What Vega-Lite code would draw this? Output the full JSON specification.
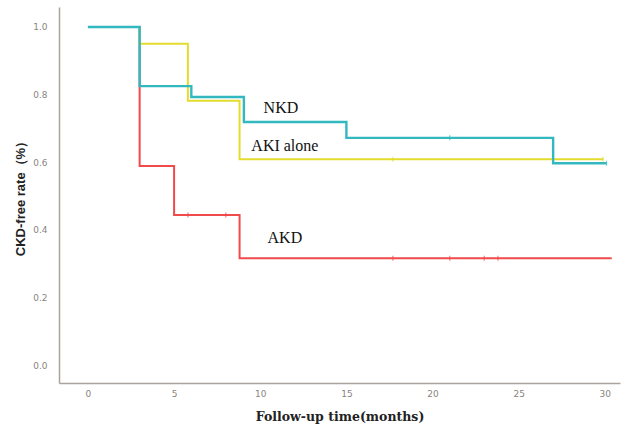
{
  "$schema": "https://vega.github.io/schema/vega-lite/v6.json",
  "width": 561,
  "height": 376,
  "autosize": "none",
  "padding": {"left": 59, "top": 7, "right": 5, "bottom": 41},
  "background": "white",
  "config": {"view": {"stroke": null}},
  "datasets": {
    "curves": [
      {"group": "AKD", "t": 0, "s": 1.0},
      {"group": "AKD", "t": 3, "s": 0.589},
      {"group": "AKD", "t": 5.0, "s": 0.444},
      {"group": "AKD", "t": 8.8, "s": 0.316},
      {"group": "AKD", "t": 30.4, "s": 0.316},
      {"group": "AKI alone", "t": 0, "s": 1.0},
      {"group": "AKI alone", "t": 3, "s": 0.95},
      {"group": "AKI alone", "t": 5.8, "s": 0.782},
      {"group": "AKI alone", "t": 8.8, "s": 0.609},
      {"group": "AKI alone", "t": 29.9, "s": 0.609},
      {"group": "NKD", "t": 0, "s": 1.0},
      {"group": "NKD", "t": 3, "s": 0.825},
      {"group": "NKD", "t": 6.0, "s": 0.793},
      {"group": "NKD", "t": 9.05, "s": 0.719},
      {"group": "NKD", "t": 15, "s": 0.672},
      {"group": "NKD", "t": 27, "s": 0.597},
      {"group": "NKD", "t": 30.1, "s": 0.597}
    ],
    "censored": [
      {"group": "AKD", "t": 5.8, "s": 0.444},
      {"group": "AKD", "t": 8.0, "s": 0.444},
      {"group": "AKD", "t": 17.7, "s": 0.316},
      {"group": "AKD", "t": 21.0, "s": 0.316},
      {"group": "AKD", "t": 23.0, "s": 0.316},
      {"group": "AKD", "t": 23.8, "s": 0.316},
      {"group": "AKI alone", "t": 17.7, "s": 0.609},
      {"group": "AKI alone", "t": 29.9, "s": 0.609},
      {"group": "NKD", "t": 21.0, "s": 0.672},
      {"group": "NKD", "t": 30.1, "s": 0.597}
    ],
    "labels": [
      {"label": "NKD", "t": 11.2, "s": 0.76},
      {"label": "AKI alone", "t": 11.43, "s": 0.648},
      {"label": "AKD", "t": 11.43, "s": 0.376}
    ]
  },
  "encoding": {
    "x": {
      "field": "t", "type": "quantitative",
      "scale": {"domain": [-1.68, 30.88], "nice": false, "zero": false},
      "axis": {
        "values": [0, 5, 10, 15, 20, 25, 30],
        "title": "Follow-up time(months)",
        "grid": false, "ticks": false,
        "domainColor": "#aca29c", "domainWidth": 1.5,
        "labelColor": "#8a8480", "labelFont": "DejaVu Sans", "labelFontSize": 9,
        "labelPadding": 6,
        "titleFont": "DejaVu Serif", "titleFontSize": 12.5, "titleFontWeight": "bold",
        "titleColor": "#222222", "titlePadding": 12
      }
    },
    "y": {
      "field": "s", "type": "quantitative",
      "scale": {"domain": [-0.053, 1.059], "nice": false, "zero": false},
      "axis": {
        "values": [0, 0.2, 0.4, 0.6, 0.8, 1.0],
        "format": ".1f",
        "title": "CKD-free rate（%）",
        "grid": false, "ticks": false,
        "domainColor": "#aca29c", "domainWidth": 1.5,
        "labelColor": "#8a8480", "labelFont": "DejaVu Sans", "labelFontSize": 9,
        "labelPadding": 12,
        "titleFont": "Liberation Sans", "titleFontSize": 13, "titleFontWeight": "bold",
        "titleColor": "#222222", "titlePadding": 5
      }
    }
  },
  "layer": [
    {
      "data": {"name": "curves"},
      "transform": [{"filter": "datum.group === 'AKD'"}],
      "mark": {"type": "line", "interpolate": "step-after", "strokeWidth": 2, "color": "#f04a4a"},
      "encoding": {"order": {"field": "t", "type": "quantitative"}}
    },
    {
      "data": {"name": "curves"},
      "transform": [{"filter": "datum.group === 'AKI alone'"}],
      "mark": {"type": "line", "interpolate": "step-after", "strokeWidth": 2, "color": "#e4dc2c"},
      "encoding": {"order": {"field": "t", "type": "quantitative"}}
    },
    {
      "data": {"name": "curves"},
      "transform": [{"filter": "datum.group === 'NKD'"}],
      "mark": {"type": "line", "interpolate": "step-after", "strokeWidth": 2.4, "color": "#34b8c0"},
      "encoding": {"order": {"field": "t", "type": "quantitative"}}
    },
    {
      "data": {"name": "censored"},
      "mark": {"type": "tick", "orient": "vertical", "size": 5, "thickness": 1.2},
      "encoding": {
        "color": {
          "field": "group", "type": "nominal",
          "scale": {"domain": ["AKD", "AKI alone", "NKD"], "range": ["#f04a4a", "#e4dc2c", "#34b8c0"]},
          "legend": null
        }
      }
    },
    {
      "data": {"name": "labels"},
      "mark": {"type": "text", "font": "Liberation Serif", "fontSize": 16, "color": "#111111", "align": "center", "baseline": "middle"},
      "encoding": {
        "text": {"field": "label", "type": "nominal"}
      }
    }
  ]
}
